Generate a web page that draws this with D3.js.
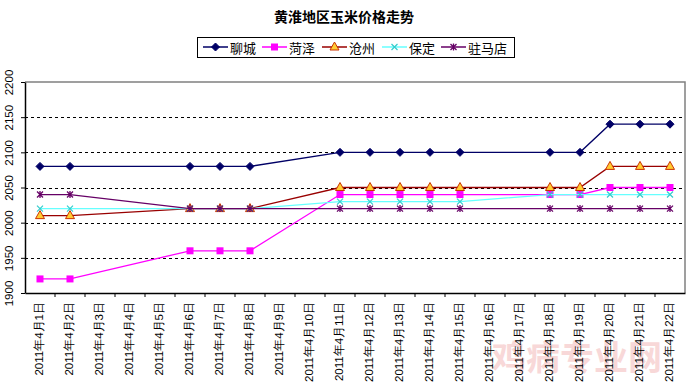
<!DOCTYPE html>
<html><head><meta charset="utf-8">
<script src="https://cdn.jsdelivr.net/npm/d3@7"></script>
<style>body{margin:0;background:#fff;} svg{display:block;font-family:"Noto Sans CJK SC","Noto Sans",sans-serif;}</style>
</head><body>
<svg id="c" width="688" height="383"></svg>
<script>
const title = "黄淮地区玉米价格走势";
const dates = ["2011年4月1日","2011年4月2日","2011年4月3日","2011年4月4日","2011年4月5日","2011年4月6日","2011年4月7日","2011年4月8日","2011年4月9日","2011年4月10日","2011年4月11日","2011年4月12日","2011年4月13日","2011年4月14日","2011年4月15日","2011年4月16日","2011年4月17日","2011年4月18日","2011年4月19日","2011年4月20日","2011年4月21日","2011年4月22日"];
const yTicks = [1900,1950,2000,2050,2100,2150,2200];
const seriesNames = ["聊城","菏泽","沧州","保定","驻马店"];
const liaocheng = [2080,2080,null,null,null,2080,2080,2080,null,null,2100,2100,2100,2100,2100,null,null,2100,2100,2140,2140,2140];
const heze      = [1920,1920,null,null,null,1960,1960,1960,null,null,2040,2040,2040,2040,2040,null,null,2040,2040,2050,2050,2050];
const cangzhou  = [2010,2010,null,null,null,2020,2020,2020,null,null,2050,2050,2050,2050,2050,null,null,2050,2050,2080,2080,2080];
const baoding   = [2020,2020,null,null,null,2020,2020,2020,null,null,2030,2030,2030,2030,2030,null,null,2040,2040,2040,2040,2040];
const zhumadian = [2040,2040,null,null,null,2020,2020,2020,null,null,2020,2020,2020,2020,2020,null,null,2020,2020,2020,2020,2020];
const watermark = "鸡病专业网";

const seriesValues = [liaocheng, heze, cangzhou, baoding, zhumadian];
const styles = [
  {line:"#000066", fill:"#000066", stroke:"#000066", shape:"diamond"},
  {line:"#FF00FF", fill:"#FF00FF", stroke:"#FF00FF", shape:"square"},
  {line:"#990000", fill:"#FFCC33", stroke:"#CC3300", shape:"triangle"},
  {line:"#66FFFF", fill:"none", stroke:"#33CCCC", shape:"x"},
  {line:"#660066", fill:"none", stroke:"#660066", shape:"star"}
];

const svg = d3.select("#c");
const L=25, R=685, T=82, B=293;
const x = d3.scaleBand().domain(dates).range([L,R]);
const y = d3.scaleLinear().domain([1900,2200]).range([B,T]);

// watermark
svg.append("text").attr("x",492).attr("y",370).attr("font-size",34).attr("font-weight","bold")
  .attr("fill","#f0a0a0").attr("opacity",0.4).text(watermark);

// title
svg.append("text").attr("x",344).attr("y",22).attr("text-anchor","middle")
  .attr("font-size",14).attr("font-weight","bold").text(title);

// plot border top/right
svg.append("path").attr("d",`M${L},${T}H${R}V${B}`).attr("fill","none").attr("stroke","#808080").attr("stroke-width",1.5);

// gridlines
svg.append("g").selectAll("line").data(yTicks.filter(d=>d>1900&&d<2200)).join("line")
  .attr("x1",L).attr("x2",R-2).attr("y1",d=>Math.round(y(d))+0.5).attr("y2",d=>Math.round(y(d))+0.5)
  .attr("stroke","#000").attr("stroke-dasharray","3,3");

// y axis
const ya = svg.append("g").attr("transform",`translate(${L},0)`)
  .call(d3.axisLeft(y).tickValues(yTicks).tickSize(4).tickSizeOuter(0).tickFormat(d3.format("d")));
ya.select(".domain").attr("stroke","#000").attr("stroke-width",1.5);
ya.selectAll(".tick text").attr("font-size",11.5).attr("text-anchor","middle")
  .attr("x",0).attr("dy",0).attr("transform","translate(-15,0) rotate(-90)").attr("dominant-baseline","middle")
  .attr("font-family","Liberation Sans, Arial, sans-serif");

// x axis
const xa = svg.append("g").attr("transform",`translate(0,${B})`)
  .call(d3.axisBottom(x).tickSize(0).tickSizeOuter(0));
xa.select(".domain").attr("stroke","#000").attr("stroke-width",1.5);
xa.selectAll(".tick text").attr("font-size",11.5).attr("text-anchor","end")
  .attr("dy",0).attr("y",0).attr("transform","translate(0,9) rotate(-90)").attr("dominant-baseline","middle");
// ticks at category boundaries
svg.append("g").selectAll("line").data(dates.slice(1)).join("line")
  .attr("x1",d=>x(d)).attr("x2",d=>x(d)).attr("y1",B).attr("y2",B+4).attr("stroke","#000");

function marker(g, shape, st, cx, cy){
  if(shape==="diamond") g.append("path").attr("d",`M${cx},${cy-4}L${cx+4},${cy}L${cx},${cy+4}L${cx-4},${cy}Z`).attr("fill",st.fill).attr("stroke",st.stroke);
  else if(shape==="square") g.append("rect").attr("x",cx-3.5).attr("y",cy-3.5).attr("width",7).attr("height",7).attr("fill",st.fill);
  else if(shape==="triangle") g.append("path").attr("d",`M${cx},${cy-5}L${cx+4.5},${cy+3}L${cx-4.5},${cy+3}Z`).attr("fill",st.fill).attr("stroke",st.stroke);
  else if(shape==="x") g.append("path").attr("d",`M${cx-3},${cy-3}L${cx+3},${cy+3}M${cx-3},${cy+3}L${cx+3},${cy-3}`).attr("stroke",st.stroke).attr("stroke-width",1.2);
  else if(shape==="star") g.append("path").attr("d",`M${cx-3},${cy-3}L${cx+3},${cy+3}M${cx-3},${cy+3}L${cx+3},${cy-3}M${cx},${cy-3.5}V${cy+3.5}`).attr("stroke",st.stroke).attr("stroke-width",1.3);
}

const line = d3.line().x(d=>x(d.date)+x.bandwidth()/2).y(d=>y(d.v));
seriesValues.forEach((vals,i)=>{
  const st = styles[i];
  const pts = dates.map((d,j)=>({date:d,v:vals[j]})).filter(p=>p.v!=null);
  const g = svg.append("g");
  g.append("path").datum(pts).attr("d",line).attr("fill","none").attr("stroke",st.line).attr("stroke-width",1.3);
  pts.forEach(p=>marker(g, st.shape, st, x(p.date)+x.bandwidth()/2, y(p.v)));
});

// legend
const lg = svg.append("g");
lg.append("rect").attr("x",197.5).attr("y",37.5).attr("width",317).attr("height",20).attr("fill","#fff").attr("stroke","#000");
const lx = [203,262,322,382,441];
seriesNames.forEach((n,i)=>{
  const st=styles[i], cy=47;
  lg.append("line").attr("x1",lx[i]).attr("x2",lx[i]+25).attr("y1",cy).attr("y2",cy).attr("stroke",st.line).attr("stroke-width",1.5);
  marker(lg, st.shape, st, lx[i]+12.5, cy);
  lg.append("text").attr("x",lx[i]+27).attr("y",cy).attr("dominant-baseline","central").attr("font-size",13).text(n);
});
</script>
</body></html>
